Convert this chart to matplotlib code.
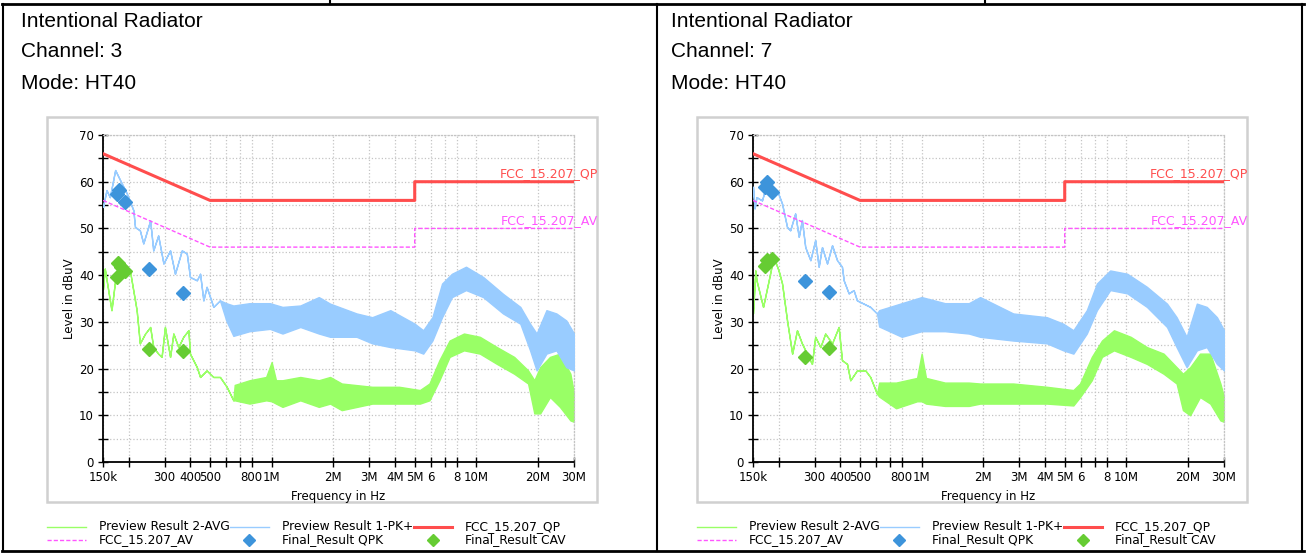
import numpy as np
import matplotlib
matplotlib.use('Agg')
import matplotlib.pyplot as plt
from matplotlib.patches import Rectangle
from matplotlib.ticker import NullLocator

W, H = 1306, 554

# ---- data (freq in Hz, level in dBuV) ----
x_ticks = [150e3, 200e3, 300e3, 400e3, 500e3, 600e3, 700e3, 800e3, 1e6, 2e6, 3e6, 4e6,
           5e6, 6e6, 7e6, 8e6, 10e6, 20e6, 30e6]
x_labels = ['150k', '', '300', '400', '500', '', '', '800', '1M', '2M', '3M', '4M',
            '5M', '6', '', '8', '10M', '20M', '30M']

limit_f = [150e3, 500e3, 5e6, 5e6, 30e6]
qp_limit = [66, 56, 56, 60, 60]
av_limit = [56, 46, 46, 50, 50]

# channel 3
ch3_pk_line_f = [150, 156, 162, 172, 182, 196, 211, 215, 227, 236, 255, 264, 279, 296, 319,
                 337, 364, 385, 399, 431, 447, 464, 481, 519, 559]
ch3_pk_line_v = [54.6, 58.2, 56.7, 62.5, 60.3, 57.5, 53.9, 50.3, 49.6, 46.8, 51.7, 45.3, 48.5,
                 42.5, 45.3, 40.3, 45.3, 44.6, 39.6, 38.9, 40.3, 34.6, 37.5, 33.2, 34.6]
ch3_pk_band_f = [0.60, 0.65, 0.78, 0.98, 1.13, 1.38, 1.7, 1.93, 2.6, 3.1, 3.8, 5.0, 5.5, 6.1,
                 6.8, 7.6, 8.9, 10.8, 13.5, 16.4, 18.3, 19.7, 22, 24.6, 27.5, 30]
ch3_pk_band_lo = [30.3, 27, 28, 28.5, 27.5, 28.9, 27.5, 26.8, 26.8, 25.4, 24.6, 23.9, 23.2, 26,
                  31, 35.3, 36.8, 35.3, 31.8, 29.6, 23.9, 19.6, 23.2, 23.9, 20.3, 19.6]
ch3_pk_band_hi = [34, 33.5, 34, 34, 33.2, 33.5, 35.3, 33.9, 31.8, 31, 32.5, 29.6, 28.2, 31,
                  38.2, 40.3, 41.8, 39.6, 36, 33.2, 29.6, 27.5, 32.5, 31.8, 30.3, 27.5]

ch3_avg_line_f = [150, 153, 165, 172, 182, 203, 219, 227, 241, 255, 264, 279, 290, 301, 319,
                  331, 350, 370, 392, 399, 431, 447, 481, 519, 559, 603, 650]
ch3_avg_line_v = [37, 41.4, 32.5, 38.9, 43.2, 41, 32.5, 25.4, 27.5, 28.9, 24.6, 23.2, 22.5,
                  28.9, 22.5, 27.5, 24.6, 26.8, 28.2, 23.2, 20.3, 18.2, 19.6, 18.2, 18.2, 16.1, 13.2]
ch3_avg_band_f = [0.66, 0.78, 0.94, 1.0, 1.05, 1.13, 1.38, 1.7, 1.93, 2.2, 3.1, 4.2, 5.3, 5.9,
                  6.6, 7.4, 8.7, 10.4, 12.6, 15.3, 17.9, 19.2, 20.5, 22.9, 25.6, 28.8, 30]
ch3_avg_band_lo = [13.2, 12.5, 13.2, 13, 12.5, 11.8, 13.2, 11.8, 12.5, 11.1, 12.5, 12.5, 12.5,
                   13.2, 17.5, 22.5, 23.9, 23.2, 21, 18.9, 16.8, 10.4, 10.4, 13.9, 11.8, 8.9, 8.6]
ch3_avg_band_hi = [16.5, 17.5, 18.2, 21.4, 17.5, 17.5, 18.2, 17.5, 18.2, 16.8, 16.1, 16.1, 15.4,
                   16.8, 21.8, 26, 27.5, 26.8, 24.6, 22.5, 19.6, 17.5, 20.3, 22.5, 23.2, 18.9, 14.7]

ch3_qpk_f = [175e3, 180e3, 192e3, 252e3, 370e3]
ch3_qpk_v = [57.3, 58.3, 55.7, 41.4, 36.1]
ch3_cav_f = [175e3, 178e3, 183e3, 192e3, 252e3, 370e3]
ch3_cav_v = [39.6, 42.5, 41.8, 40.9, 24.1, 23.8]

# channel 7
ch7_pk_line_f = [150, 152.7, 156, 166, 176, 186, 198, 208, 220, 228, 241, 251, 260, 270, 286,
                 302, 314, 326, 345, 365, 386, 408, 416, 440, 465, 483, 521, 561, 605]
ch7_pk_line_v = [58.9, 54.3, 56.7, 56, 60, 58.9, 57.8, 55.3, 50.3, 49.6, 53.2, 48.2, 51.8, 46,
                 43.2, 47.5, 41.8, 46, 42.5, 46.4, 43.2, 41.8, 38.9, 36.1, 36.8, 34.6, 33.9, 33.2, 31.8]
ch7_pk_band_f = [0.62, 0.8, 1.0, 1.3, 1.7, 1.93, 2.8, 4.09, 4.92, 5.51, 6.41, 7.18, 8.34, 10.1,
                 12.6, 15.8, 17.6, 19.7, 22.1, 24.7, 27.7, 30]
ch7_pk_band_lo = [29, 26.8, 28, 28, 27.5, 26.8, 26, 25.4, 23.9, 23.2, 27.5, 32.5, 36.8, 36.1,
                  33.2, 28.9, 24.6, 20.3, 23.9, 24.6, 21, 19.6]
ch7_pk_band_hi = [32.5, 34, 35.3, 34, 34, 35.3, 31.8, 31, 29.6, 28.2, 32.5, 38.2, 41, 40.3,
                  37.5, 33.9, 31, 26.8, 33.9, 33.2, 31, 28.2]

ch7_avg_line_f = [150, 154, 156, 168, 179, 189, 200, 208, 220, 233, 246, 260, 275, 291, 302,
                  320, 338, 365, 393, 408, 432, 448, 483, 531, 561, 605]
ch7_avg_line_v = [31.8, 41, 38.9, 33.2, 38.9, 43.9, 41, 38.2, 30.3, 23.2, 28.2, 25.4, 23.2, 21,
                  26.8, 24.6, 27.5, 25.4, 28.9, 21.8, 21, 17.5, 19.6, 19.6, 18.2, 14.6]
ch7_avg_band_f = [0.62, 0.75, 0.95, 1.0, 1.05, 1.3, 1.7, 1.93, 2.8, 4.09, 5.51, 5.94, 6.78, 7.6,
                  8.7, 10.5, 12.6, 15.2, 17.6, 18.9, 20.5, 22.9, 25.7, 28.8, 30]
ch7_avg_band_lo = [14, 11.5, 13, 13, 12.5, 12, 12, 12.5, 12.5, 12.5, 12.1, 13.9, 17.5, 22.5,
                   23.9, 22.5, 21, 18.9, 16.8, 11.1, 10, 13.9, 12.5, 8.9, 8.6]
ch7_avg_band_hi = [17, 17, 18, 23.2, 18, 17, 17, 16.8, 16.8, 16.1, 15.4, 16.8, 22.5, 26,
                   28.2, 26.8, 24.6, 23.2, 20.3, 18.9, 20.3, 23.2, 23.2, 16.8, 13.9]

ch7_qpk_f = [172e3, 175e3, 186e3, 270e3, 354e3]
ch7_qpk_v = [58.9, 60, 57.7, 38.7, 36.3]
ch7_cav_f = [172e3, 175e3, 186e3, 270e3, 354e3]
ch7_cav_v = [41.9, 43.2, 43.5, 22.5, 24.3]

C_AVG = '#99ff66'
C_PK = '#99ccff'
C_QP = '#ff4d4d'
C_AV = '#ff55ff'
C_QPK = '#3d94db'
C_CAV = '#66cc33'


def trace(line_f_k, line_v, band_f_m, band_lo, band_hi):
    f = np.concatenate([np.array(line_f_k) * 1e3, np.array(band_f_m) * 1e6])
    lo = np.concatenate([line_v, band_lo])
    hi = np.concatenate([line_v, band_hi])
    return f, lo, hi


def px_axes(fig, x0, y0, x1, y1, **kw):
    return fig.add_axes([x0 / W, 1 - y1 / H, (x1 - x0) / W, (y1 - y0) / H], **kw)


def draw_chart(ax, pk, avg, qpk_f, qpk_v, cav_f, cav_v):
    f, lo, hi = avg
    ax.fill_between(f, lo, hi, color=C_AVG, lw=1, edgecolor=C_AVG, zorder=2)
    f, lo, hi = pk
    ax.fill_between(f, lo, hi, color=C_PK, lw=1, edgecolor=C_PK, zorder=3)
    ax.plot(limit_f, qp_limit, color=C_QP, lw=2.2, zorder=4)
    ax.plot(limit_f, av_limit, color=C_AV, lw=1, ls=(0, (3, 1.5)), zorder=4)
    ax.plot(qpk_f, qpk_v, 'D', color=C_QPK, ms=7.5, mec=C_QPK, zorder=5)
    ax.plot(cav_f, cav_v, 'D', color=C_CAV, ms=7.5, mec=C_CAV, zorder=5)

    ax.annotate('FCC_15.207_QP', xy=(30e6, 60), xytext=(17, 1), textcoords='offset points',
                ha='right', va='bottom', color=C_QP, fontsize=9, annotation_clip=False)
    ax.annotate('FCC_15.207_AV', xy=(30e6, 50), xytext=(17, 1), textcoords='offset points',
                ha='right', va='bottom', color=C_AV, fontsize=9, annotation_clip=False)

    ax.set_xscale('log')
    ax.set_xlim(150e3, 30e6)
    ax.set_ylim(0, 70)
    ax.set_xticks(x_ticks)
    ax.set_xticklabels(x_labels)
    ax.xaxis.set_minor_locator(NullLocator())
    ax.set_yticks(range(0, 71, 10))
    ax.set_yticks(range(5, 70, 10), minor=True)
    ax.tick_params(axis='both', which='both', direction='inout', length=7, width=1,
                   labelsize=8.5, pad=3)
    ax.grid(True, which='both', color='#c4c4c4', ls=':', lw=0.9)
    for s in ['top', 'right']:
        ax.spines[s].set_color('#c4c4c4')
        ax.spines[s].set_linestyle(':')
        ax.spines[s].set_linewidth(0.9)
    for s in ['left', 'bottom']:
        ax.spines[s].set_linewidth(1.3)
    ax.set_xlabel('Frequency in Hz', fontsize=8.5, labelpad=4)
    ax.set_ylabel('Level in dBuV', fontsize=8.5, labelpad=2)


fig = plt.figure(figsize=(W / 100, H / 100), dpi=100)
bg = fig.add_axes([0, 0, 1, 1], zorder=-1)
bg.set_xlim(0, W)
bg.set_ylim(H, 0)
bg.axis('off')

# table borders
bg.plot([2, 1304], [4, 4], color='black', lw=2)
bg.plot([2, 1304], [551, 551], color='black', lw=2)
for xv in [3, 657, 1302]:
    bg.plot([xv, xv], [4, 551], color='black', lw=1.5)
for xv in [330, 985]:
    bg.plot([xv, xv], [0, 4], color='black', lw=1.5)

panels = [
    (0, '3', trace(ch3_pk_line_f, ch3_pk_line_v, ch3_pk_band_f, ch3_pk_band_lo, ch3_pk_band_hi),
     trace(ch3_avg_line_f, ch3_avg_line_v, ch3_avg_band_f, ch3_avg_band_lo, ch3_avg_band_hi),
     ch3_qpk_f, ch3_qpk_v, ch3_cav_f, ch3_cav_v),
    (650, '7', trace(ch7_pk_line_f, ch7_pk_line_v, ch7_pk_band_f, ch7_pk_band_lo, ch7_pk_band_hi),
     trace(ch7_avg_line_f, ch7_avg_line_v, ch7_avg_band_f, ch7_avg_band_lo, ch7_avg_band_hi),
     ch7_qpk_f, ch7_qpk_v, ch7_cav_f, ch7_cav_v),
]

for dx, ch, pk, avg, qf, qv, cf, cv in panels:
    bg.text(21 + dx, 27, 'Intentional Radiator', fontsize=15, family='Liberation Sans', va='baseline')
    bg.text(21 + dx, 57, 'Channel: ' + ch, fontsize=15, family='Liberation Sans', va='baseline')
    bg.text(21 + dx, 89, 'Mode: HT40', fontsize=15, family='Liberation Sans', va='baseline')
    bg.add_patch(Rectangle((47 + dx, 117), 550, 385, fill=False, edgecolor='#d0d0d0', lw=1.8))

    ax = px_axes(fig, 103 + dx, 135, 574 + dx, 462)
    draw_chart(ax, pk, avg, qf, qv, cf, cv)

    # legend
    r1, r2 = 527, 540
    bg.plot([47 + dx, 86 + dx], [r1, r1], color=C_AVG, lw=1)
    bg.text(99 + dx, r1, 'Preview Result 2-AVG', fontsize=8.8, va='center')
    bg.plot([230 + dx, 269 + dx], [r1, r1], color=C_PK, lw=1)
    bg.text(282 + dx, r1, 'Preview Result 1-PK+', fontsize=8.8, va='center')
    bg.plot([414 + dx, 452 + dx], [r1, r1], color=C_QP, lw=2.2)
    bg.text(465 + dx, r1, 'FCC_15.207_QP', fontsize=8.8, va='center')
    bg.plot([47 + dx, 86 + dx], [r2, r2], color=C_AV, lw=1, ls=(0, (3, 1.5)))
    bg.text(99 + dx, r2, 'FCC_15.207_AV', fontsize=8.8, va='center')
    bg.plot([249 + dx], [r2], 'D', color=C_QPK, ms=6)
    bg.text(282 + dx, r2, 'Final_Result QPK', fontsize=8.8, va='center')
    bg.plot([433 + dx], [r2], 'D', color=C_CAV, ms=6)
    bg.text(465 + dx, r2, 'Final_Result CAV', fontsize=8.8, va='center')

fig.savefig('out.png', dpi=100)
